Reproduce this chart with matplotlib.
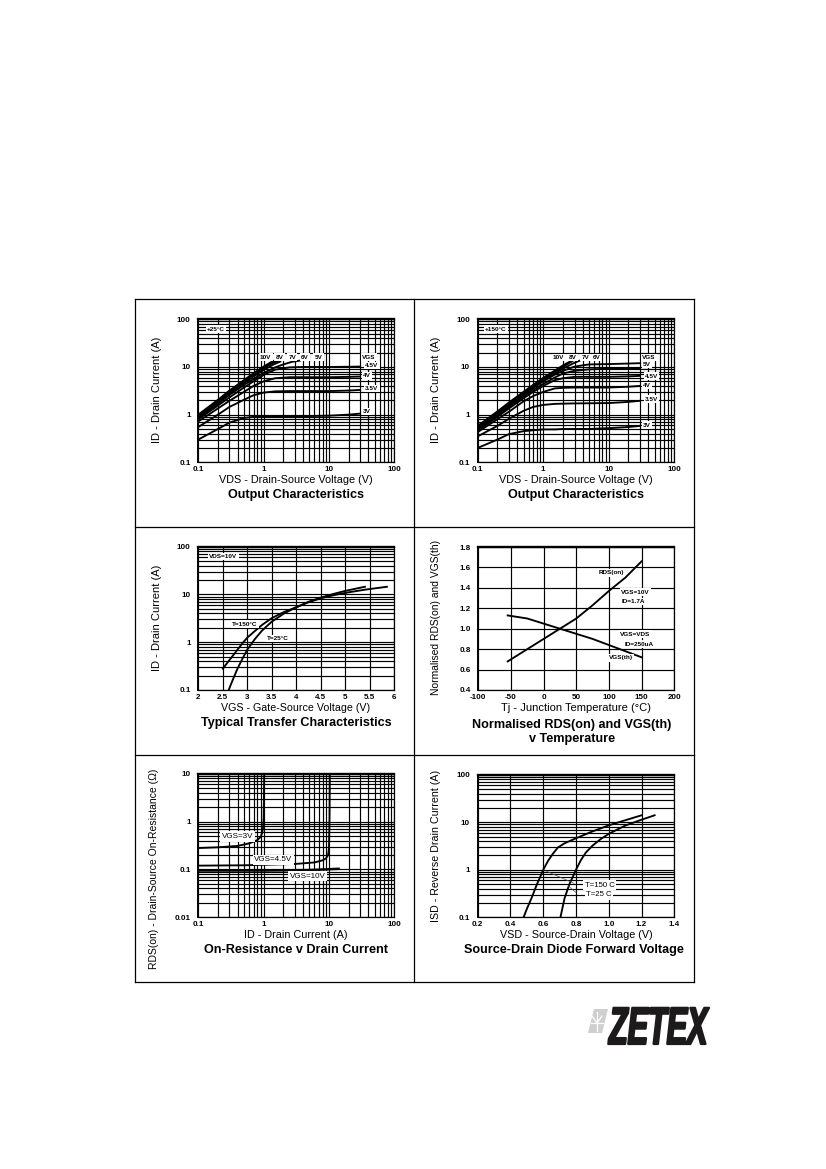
import matplotlib
matplotlib.use("Agg")
import matplotlib.pyplot as plt
import matplotlib.patheffects as pe
from matplotlib.lines import Line2D
from matplotlib.patches import Polygon
from matplotlib.ticker import LogLocator, FixedLocator, FixedFormatter, NullFormatter
from matplotlib.transforms import Affine2D

plt.rcParams['font.family'] = ['Liberation Sans', 'DejaVu Sans']

# ---------- data ----------
out25_vds_tail = [0.1, 0.2, 0.3, 0.5, 0.7, 1, 1.5, 2.5, 4, 10, 20, 30]
out25_3v   = [0.30, 0.50, 0.68, 0.85, 0.90, 0.92, 0.93, 0.93, 0.93, 0.95, 1.0, 1.05]
out25_35v  = [0.55, 1.00, 1.45, 2.05, 2.55, 2.90, 3.08, 3.12, 3.12, 3.12, 3.2, 3.3]
out25_4v   = [0.72, 1.35, 1.95, 3.0, 4.0, 5.0, 5.8, 6.1, 6.1, 6.1, 6.2, 6.3]
out25_45v  = [0.80, 1.55, 2.3, 3.7, 5.0, 6.8, 8.8, 9.8, 10.0, 10.0, 10.1, 10.2]
out25_vds_5v = [0.1, 0.2, 0.3, 0.5, 0.7, 1, 1.5, 2, 2.7, 3.6]
out25_5v   = [0.85, 1.7, 2.6, 4.2, 5.6, 7.5, 9.8, 11.3, 12.8, 13.6]
out25_vds_hi = [0.1, 0.2, 0.3, 0.5, 0.7, 1, 1.4, 1.8]
out25_6v   = [0.88, 1.8, 2.8, 4.6, 6.3, 8.6, 11.2, 13.0]
out25_7v   = [0.92, 1.9, 3.0, 4.9, 6.8, 9.4, 12.2, 14.0]
out25_8v   = [0.95, 1.95, 3.1, 5.1, 7.1, 9.8, 12.8, 14.2]
out25_10v  = [1.0, 2.05, 3.2, 5.3, 7.4, 10.2, 13.4, 14.5]

out150_vds_tail = [0.1, 0.2, 0.3, 0.5, 0.7, 1, 1.5, 2, 3, 5, 10, 20, 30]
out150_3v  = [0.20, 0.30, 0.39, 0.45, 0.47, 0.49, 0.49, 0.50, 0.50, 0.50, 0.52, 0.55, 0.58]
out150_35v = [0.35, 0.58, 0.82, 1.2, 1.45, 1.6, 1.68, 1.7, 1.72, 1.73, 1.75, 1.85, 1.95]
out150_4v  = [0.43, 0.80, 1.15, 1.9, 2.45, 3.0, 3.55, 3.65, 3.7, 3.7, 3.7, 3.85, 4.0]
out150_45v = [0.46, 0.90, 1.35, 2.2, 3.0, 4.0, 5.3, 5.8, 6.2, 6.2, 6.2, 6.35, 6.5]
out150_5v  = [0.48, 0.95, 1.45, 2.4, 3.3, 4.4, 6.0, 7.3, 8.3, 8.9, 9.2, 9.4, 9.5]
out150_6v  = [0.50, 1.00, 1.55, 2.6, 3.6, 5.0, 6.9, 8.3, 10.2, 11.3, 11.5, 11.8, 12.0]
out150_vds_hi = [0.1, 0.2, 0.3, 0.5, 0.7, 1, 1.5, 2, 2.9, 3.8]
out150_7v  = [0.52, 1.05, 1.6, 2.7, 3.8, 5.3, 7.4, 9.2, 12.0, 14.0]
out150_vds_top = [0.1, 0.2, 0.3, 0.5, 0.7, 1, 1.5, 2, 2.9]
out150_8v  = [0.55, 1.1, 1.7, 2.85, 4.0, 5.6, 7.9, 10.0, 13.8]
out150_10v = [0.58, 1.17, 1.8, 3.0, 4.2, 5.9, 8.4, 10.8, 14.2]

tr150_vgs = [2.5, 2.6, 2.75, 2.9, 3, 3.15, 3.3, 3.5, 3.75, 4, 4.25, 4.5, 4.75, 5, 5.4, 5.85]
tr150_id  = [0.28, 0.38, 0.60, 0.95, 1.25, 1.7, 2.3, 3.2, 4.3, 5.4, 6.9, 8.3, 9.6, 10.8, 12.6, 14.5]
tr25_vgs  = [2.62, 2.7, 2.8, 2.9, 3, 3.15, 3.3, 3.5, 3.75, 4, 4.25, 4.5, 4.75, 5, 5.4]
tr25_id   = [0.10, 0.16, 0.28, 0.45, 0.70, 1.15, 1.75, 2.7, 4.0, 5.4, 7.0, 8.6, 10.2, 11.9, 14.5]

temp_c    = [-55, -25, 0, 25, 50, 75, 100, 125, 150]
rds_norm  = [0.68, 0.80, 0.90, 1.00, 1.10, 1.23, 1.37, 1.50, 1.66]
vth_norm  = [1.13, 1.10, 1.05, 1.00, 0.95, 0.90, 0.84, 0.78, 0.72]

ron3_id  = [0.1, 0.2, 0.4, 0.6, 0.8, 0.9, 0.95, 0.98, 1.0, 1.01, 1.02]
ron3_r   = [0.28, 0.29, 0.31, 0.35, 0.41, 0.48, 0.58, 0.75, 1.2, 3, 10]
ron45_id = [0.1, 0.5, 1, 3, 6, 8, 9, 9.7, 10, 10.2, 10.3]
ron45_r  = [0.12, 0.122, 0.125, 0.13, 0.14, 0.155, 0.17, 0.2, 0.28, 1.2, 10]
ron10_id = [0.1, 1, 5, 14]
ron10_r  = [0.095, 0.095, 0.097, 0.103]

sd150_v = [0.48, 0.50, 0.53, 0.56, 0.60, 0.63, 0.66, 0.69, 0.73, 0.80, 0.90, 1.00, 1.10, 1.20]
sd150_i = [0.10, 0.15, 0.26, 0.48, 1.0, 1.55, 2.2, 2.95, 3.6, 4.6, 6.4, 8.6, 11.0, 14.0]
sd25_v  = [0.705, 0.73, 0.76, 0.80, 0.83, 0.86, 0.90, 0.95, 1.00, 1.10, 1.20, 1.28]
sd25_i  = [0.10, 0.25, 0.50, 1.0, 1.6, 2.3, 3.2, 4.4, 5.7, 8.5, 11.3, 14.0]

log3_ticks = [0.1, 1, 10, 100]
log3_labels = ['0.1', '1', '10', '100']
ron_y_ticks = [0.01, 0.1, 1, 10]
ron_y_labels = ['0.01', '0.1', '1', '10']
vgs_ticks = [2, 2.5, 3, 3.5, 4, 4.5, 5, 5.5, 6]
vgs_labels = ['2', '2.5', '3', '3.5', '4', '4.5', '5', '5.5', '6']
tj_ticks = [-100, -50, 0, 50, 100, 150, 200]
tj_labels = ['-100', '-50', '0', '50', '100', '150', '200']
norm_ticks = [0.4, 0.6, 0.8, 1.0, 1.2, 1.4, 1.6, 1.8]
norm_labels = ['0.4', '0.6', '0.8', '1.0', '1.2', '1.4', '1.6', '1.8']
vsd_ticks = [0.2, 0.4, 0.6, 0.8, 1.0, 1.2, 1.4]
vsd_labels = ['0.2', '0.4', '0.6', '0.8', '1.0', '1.2', '1.4']

# ---------- helpers ----------
W, H = 826, 1169
fig = plt.figure(figsize=(W/100, H/100), dpi=100, facecolor='white')
GRID = 0.85
CURVE = 1.35


def make_axes(l, r, t, b, xlim, ylim, xlog, ylog, xt, xl, yt, yl):
    ax = fig.add_axes([l/W, 1-b/H, (r-l)/W, (b-t)/H])
    ax.set_xscale('log' if xlog else 'linear')
    ax.set_yscale('log' if ylog else 'linear')
    ax.set_xlim(*xlim)
    ax.set_ylim(*ylim)
    for axis, ticks, labs, log in ((ax.xaxis, xt, xl, xlog), (ax.yaxis, yt, yl, ylog)):
        axis.set_major_locator(FixedLocator(ticks))
        axis.set_major_formatter(FixedFormatter(labs))
        if log:
            axis.set_minor_locator(LogLocator(base=10, subs=range(2, 10), numticks=50))
            axis.set_minor_formatter(NullFormatter())
    ax.tick_params(which='both', length=0)
    ax.tick_params(axis='x', which='major', labelsize=5.8, pad=3)
    ax.tick_params(axis='y', which='major', labelsize=5.8, pad=5.5)
    for lab in ax.get_xticklabels() + ax.get_yticklabels():
        lab.set_fontweight('bold')
    ax.grid(True, which='major', color='black', lw=GRID)
    ax.grid(True, which='minor', color='black', lw=GRID)
    ax.set_axisbelow(True)
    for s in ax.spines.values():
        s.set_linewidth(0.9)
    ax.spines['top'].set_linewidth(1.7)
    ax.spines['left'].set_linewidth(1.4)
    return ax


def note(ax, x, y, s, size=4.6, weight='bold'):
    ax.text(x, y, s, fontsize=size, fontweight=weight, ha='center', va='center',
            bbox=dict(boxstyle='square,pad=0.2', fc='white', ec='none'), zorder=5)


def labels(ax, l, r, t, b, xlabel, ylabel, title, xc, xy, yx, yy, tc, ty, xs=7.8, ys=8.0):
    ax.set_xlabel(xlabel, fontsize=xs, va='center', ha='center')
    ax.xaxis.set_label_coords((xc-l)/(r-l), (b-xy)/(b-t))
    ax.set_ylabel(ylabel, fontsize=ys, va='center', ha='center')
    ax.yaxis.set_label_coords((yx-l)/(r-l), (b-yy)/(b-t))
    fig.text(tc/W, 1-ty/H, title, fontsize=9.1, fontweight='bold', ha='center', va='center',
             linespacing=1.2)


# frame of the sheet
for x0, y0, x1, y1 in [(135, 299, 694, 299), (135, 982, 694, 982), (135, 299, 135, 982),
                       (694, 299, 694, 982), (414, 299, 414, 982), (135, 527, 694, 527),
                       (135, 755, 694, 755)]:
    fig.add_artist(Line2D([x0/W, x1/W], [1-y0/H, 1-y1/H], color='black', lw=0.9))

# ---------- panel 1 ----------
L, R, T, B = 198.3, 394.3, 319.3, 462.3
ax = make_axes(L, R, T, B, (0.1, 100), (0.1, 100), True, True, log3_ticks, log3_labels, log3_ticks, log3_labels)
for y in (out25_3v, out25_35v, out25_4v, out25_45v):
    ax.plot(out25_vds_tail, y, color='black', lw=CURVE, zorder=3)
ax.plot(out25_vds_5v, out25_5v, color='black', lw=CURVE, zorder=3)
for y in (out25_6v, out25_7v, out25_8v, out25_10v):
    ax.plot(out25_vds_hi, y, color='black', lw=CURVE, zorder=3)
for x, y, s in [(1.07, 16, '10V'), (1.76, 16, '8V'), (2.75, 16, '7V'), (4.3, 16, '6V'), (6.9, 16, '5V'),
                (41, 16, 'VGS'), (45, 10.7, '4.5V'), (38, 6.5, '4V'), (45, 3.5, '3.5V'), (38, 1.17, '3V'),
                (0.186, 62, '+25°C')]:
    note(ax, x, y, s)
labels(ax, L, R, T, B, 'VDS - Drain-Source Voltage (V)', 'ID - Drain Current (A)', 'Output Characteristics',
       296, 480, 157, 390, 296, 495)

# ---------- panel 2 ----------
L, R, T, B = 477.7, 674.3, 319.3, 462.3
ax = make_axes(L, R, T, B, (0.1, 100), (0.1, 100), True, True, log3_ticks, log3_labels, log3_ticks, log3_labels)
for y in (out150_3v, out150_35v, out150_4v, out150_45v, out150_5v, out150_6v):
    ax.plot(out150_vds_tail, y, color='black', lw=CURVE, zorder=3)
ax.plot(out150_vds_hi, out150_7v, color='black', lw=CURVE, zorder=3)
for y in (out150_8v, out150_10v):
    ax.plot(out150_vds_top, y, color='black', lw=CURVE, zorder=3)
for x, y, s in [(1.72, 15.7, '10V'), (2.8, 15.7, '8V'), (4.4, 15.7, '7V'), (6.6, 15.7, '6V'),
                (41, 15.7, 'VGS'), (38, 11.4, '5V'), (45, 6.4, '4.5V'), (38, 4.1, '4V'),
                (45, 2.1, '3.5V'), (38, 0.6, '3V'), (0.19, 62, '+150°C')]:
    note(ax, x, y, s)
labels(ax, L, R, T, B, 'VDS - Drain-Source Voltage (V)', 'ID - Drain Current (A)', 'Output Characteristics',
       576, 480, 436, 390, 576, 495)

# ---------- panel 3 ----------
L, R, T, B = 198.3, 394.3, 546.7, 690
ax = make_axes(L, R, T, B, (2, 6), (0.1, 100), False, True, vgs_ticks, vgs_labels, log3_ticks, log3_labels)
ax.plot(tr150_vgs, tr150_id, color='black', lw=CURVE, zorder=3)
ax.plot(tr25_vgs, tr25_id, color='black', lw=CURVE, zorder=3)
for x, y, s in [(2.51, 62, 'VDS=10V'), (2.95, 2.4, 'T=150°C'), (3.63, 1.2, 'T=25°C')]:
    note(ax, x, y, s)
labels(ax, L, R, T, B, 'VGS - Gate-Source Voltage (V)', 'ID - Drain Current (A)', 'Typical Transfer Characteristics',
       296, 708, 157, 618, 296, 723, xs=7.7)

# ---------- panel 4 ----------
L, R, T, B = 478.3, 674.3, 547, 690
ax = make_axes(L, R, T, B, (-100, 200), (0.4, 1.8), False, False, tj_ticks, tj_labels, norm_ticks, norm_labels)
ax.plot(temp_c, rds_norm, color='black', lw=CURVE, zorder=3)
ax.plot(temp_c, vth_norm, color='black', lw=CURVE, zorder=3)
for x, y, s in [(103, 1.546, 'RDS(on)'), (140, 1.357, 'VGS=10V'), (138, 1.266, 'ID=1.7A'),
                (140, 0.947, 'VGS=VDS'), (147, 0.85, 'ID=250uA'), (118, 0.716, 'VGS(th)')]:
    note(ax, x, y, s)
labels(ax, L, R, T, B, 'Tj - Junction Temperature (°C)', 'Normalised RDS(on) and VGS(th)',
       'Normalised RDS(on) and VGS(th)\nv Temperature', 576, 708, 436, 617, 572, 732, xs=8.0, ys=7.4)

# ---------- panel 5 ----------
L, R, T, B = 198.3, 394.3, 773.7, 917.3
ax = make_axes(L, R, T, B, (0.1, 100), (0.01, 10), True, True, log3_ticks, log3_labels, ron_y_ticks, ron_y_labels)
ax.plot(ron3_id, ron3_r, color='black', lw=CURVE, zorder=3)
ax.plot(ron45_id, ron45_r, color='black', lw=CURVE, zorder=3)
ax.plot(ron10_id, ron10_r, color='black', lw=1.8, zorder=3)
for x, y, s in [(0.4, 0.486, 'VGS=3V'), (1.41, 0.158, 'VGS=4.5V'), (4.7, 0.072, 'VGS=10V')]:
    note(ax, x, y, s, size=5.8, weight='normal')
labels(ax, L, R, T, B, 'ID - Drain Current (A)', 'RDS(on) - Drain-Source On-Resistance (Ω)',
       'On-Resistance v Drain Current', 296, 935, 154, 869, 296, 950, ys=7.5)

# ---------- panel 6 ----------
L, R, T, B = 477.7, 674.3, 774.7, 917.3
ax = make_axes(L, R, T, B, (0.2, 1.4), (0.1, 100), False, True, vsd_ticks, vsd_labels, log3_ticks, log3_labels)
ax.plot(sd150_v, sd150_i, color='black', lw=CURVE, zorder=3)
ax.plot(sd25_v, sd25_i, color='black', lw=CURVE, zorder=3)
ax.annotate('', xy=(0.804, 0.49), xytext=(0.6, 1.0), arrowprops=dict(arrowstyle='-', color='#555555', lw=0.5), zorder=4)
ax.annotate('', xy=(0.815, 0.30), xytext=(0.74, 0.5), arrowprops=dict(arrowstyle='-', color='#555555', lw=0.5), zorder=4)
for x, y, s in [(0.946, 0.478, 'T=150 C'), (0.94, 0.30, 'T=25 C')]:
    note(ax, x, y, s, size=5.6, weight='normal')
labels(ax, L, R, T, B, 'VSD - Source-Drain Voltage (V)', 'ISD - Reverse Drain Current (A)',
       'Source-Drain Diode Forward Voltage', 576, 935, 436, 846, 574, 950, ys=7.7, xs=7.75)


# ---------- logo ----------
class Stretch(pe.AbstractPathEffect):
    """Stretch the glyph outlines vertically about a baseline given in pixels."""
    def __init__(self, sy, y0):
        super().__init__()
        self.sy, self.y0 = sy, y0

    def draw_path(self, renderer, gc, tpath, affine, rgbFace=None):
        t = affine + Affine2D().translate(0, -self.y0).scale(1, self.sy).translate(0, self.y0)
        gc1 = renderer.new_gc()
        gc1.copy_properties(gc)
        gc1.set_linewidth(1.6)
        gc1.set_foreground('#1c1a1b')
        renderer.draw_path(gc1, tpath, t, rgbFace)
        gc1.restore()


base = H - 1044
fig.text(609/W, base/H, 'ZETEX', fontsize=22, fontweight='bold', style='italic', color='#1c1a1b',
         ha='left', va='baseline', path_effects=[Stretch(1.72, base)])
fig.add_artist(Polygon([[588/W, 1-1033/H], [594/W, 1-1009/H], [608/W, 1-1009/H], [602/W, 1-1033/H]],
                       closed=True, transform=fig.transFigure, fc='#cfcfcf', ec='none'))
for xs, ys in [([597, 597], [1012, 1031]), ([591, 603], [1023, 1023]), ([592, 597, 602], [1016, 1023, 1016])]:
    fig.add_artist(Line2D([v/W for v in xs], [1-v/H for v in ys], color='white', lw=0.9))

fig.savefig('out.png', dpi=100)
